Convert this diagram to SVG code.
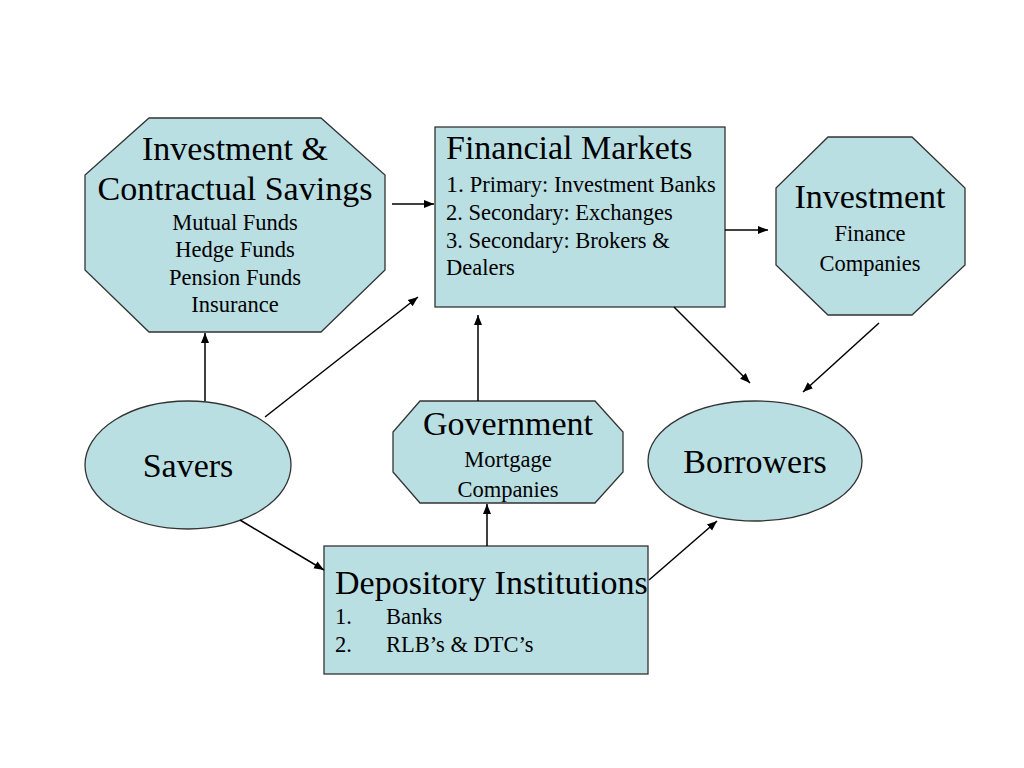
<svg xmlns="http://www.w3.org/2000/svg" width="1024" height="768" viewBox="0 0 1024 768">
<defs>
<marker id="ah" viewBox="0 0 10 10" refX="10" refY="5" markerWidth="10" markerHeight="10" markerUnits="userSpaceOnUse" orient="auto">
<path d="M0,1 L10,5 L0,9 Z" fill="#000"/>
</marker>
<style>
.shape{fill:#BADFE3;stroke:#333;stroke-width:1.3}
.t{font-family:"Liberation Serif","Times New Roman",serif;fill:#000}
.big{font-size:34px}
.sm{font-size:22.5px}
.c{text-anchor:middle}
.conn line{stroke:#000;stroke-width:1.5;marker-end:url(#ah)}
</style>
</defs>
<rect width="1024" height="768" fill="#fff"/>

<g id="investment-contractual">
<polygon class="shape" points="149,118 321,118 385,175 385,270 321,332 149,332 85,270 85,175"/>
<text class="t big c" x="235" y="160">Investment &amp;</text>
<text class="t big c" x="235" y="200">Contractual Savings</text>
<text class="t sm c" x="235" y="230">Mutual Funds</text>
<text class="t sm c" x="235" y="257">Hedge Funds</text>
<text class="t sm c" x="235" y="285">Pension Funds</text>
<text class="t sm c" x="235" y="312">Insurance</text>
</g>

<g id="financial-markets">
<rect class="shape" x="435" y="127" width="290" height="180"/>
<text class="t big" x="446" y="159">Financial Markets</text>
<text class="t sm" x="446" y="192"><tspan font-size="24">1.</tspan> Primary: Investment Banks</text>
<text class="t sm" x="446" y="220">2. Secondary: Exchanges</text>
<text class="t sm" x="446" y="248">3. Secondary: Brokers &amp;</text>
<text class="t sm" x="446" y="275">Dealers</text>
</g>

<g id="investment-finance">
<polygon class="shape" points="828,137 912,137 965,188 965,265 912,315 828,315 776,265 776,188"/>
<text class="t big c" x="870" y="208">Investment</text>
<text class="t sm c" x="870" y="241">Finance</text>
<text class="t sm c" x="870" y="271">Companies</text>
</g>

<g id="savers">
<ellipse class="shape" cx="188" cy="465" rx="103" ry="64"/>
<text class="t big c" x="188" y="477">Savers</text>
</g>

<g id="government">
<polygon class="shape" points="420,401 595,401 623,432 623,472 595,503 420,503 393,472 393,432"/>
<text class="t big c" x="508" y="435">Government</text>
<text class="t sm c" x="508" y="467">Mortgage</text>
<text class="t sm c" x="508" y="497">Companies</text>
</g>

<g id="borrowers">
<ellipse class="shape" cx="755" cy="461" rx="107" ry="60"/>
<text class="t big c" x="755" y="473">Borrowers</text>
</g>

<g id="depository">
<rect class="shape" x="324" y="546" width="324" height="128"/>
<text class="t big" x="335" y="594">Depository Institutions</text>
<text class="t sm" x="335" y="624">1.</text>
<text class="t sm" x="386" y="624">Banks</text>
<text class="t sm" x="335" y="652">2.</text>
<text class="t sm" x="386" y="652">RLB’s &amp; DTC’s</text>
</g>

<g id="connectors" class="conn">
<line x1="205" y1="401" x2="205" y2="333"/>
<line x1="265" y1="417" x2="418" y2="297"/>
<line x1="392" y1="204" x2="434" y2="204"/>
<line x1="725" y1="230" x2="768" y2="230"/>
<line x1="674" y1="307" x2="750" y2="383"/>
<line x1="879" y1="323" x2="803" y2="392"/>
<line x1="478" y1="401" x2="478" y2="315"/>
<line x1="487" y1="546" x2="487" y2="504"/>
<line x1="240" y1="520" x2="324" y2="570"/>
<line x1="649" y1="580" x2="717" y2="521"/>
</g>
</svg>
